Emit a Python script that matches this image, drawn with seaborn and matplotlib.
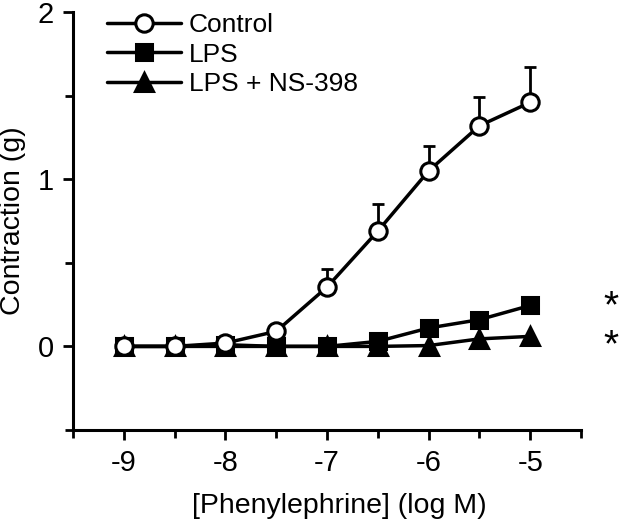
import numpy as np
import pandas as pd
import matplotlib
matplotlib.use("Agg")
import matplotlib.pyplot as plt
from matplotlib.ticker import FixedLocator
import seaborn as sns

# log M phenylephrine concentrations
conc = [-9, -8.5, -8, -7.5, -7, -6.5, -6, -5.5, -5]

# contraction (g)
control = [0.0, 0.0, 0.02, 0.09, 0.355, 0.69, 1.05, 1.32, 1.46]
control_err = [0.0, 0.0, 0.0, 0.03, 0.11, 0.16, 0.15, 0.17, 0.21]
lps = [0.0, 0.0, 0.01, 0.0, 0.0, 0.03, 0.11, 0.16, 0.245]
lps_ns = [0.0, 0.0, 0.0, 0.0, 0.0, 0.0, 0.005, 0.045, 0.06]

series_names = ["Control", "LPS", "LPS + NS-398"]
series_markers = ["o", "s", "^"]
x_ticks = [-9, -8, -7, -6, -5]
y_ticks = [0, 1, 2]

df = pd.DataFrame({
    "conc": conc * 3,
    "value": control + lps + lps_ns,
    "group": np.repeat(series_names, len(conc)),
})

sns.set_style("ticks")
plt.rcParams['font.family'] = ['Liberation Sans', 'DejaVu Sans']
plt.rcParams['axes.unicode_minus'] = False
plt.rcParams['text.color'] = 'black'
plt.rcParams['axes.labelcolor'] = 'black'
plt.rcParams['xtick.color'] = 'black'
plt.rcParams['ytick.color'] = 'black'

fig = plt.figure(figsize=(6.4, 5.25), dpi=100)
ax = fig.add_axes([0.114, 0.181, 0.794, 0.796])

# upper error bars for the control curve only
ax.errorbar(conc, control, yerr=[np.zeros(len(conc)), control_err], fmt="none",
            ecolor="black", elinewidth=2, capsize=4, capthick=2, zorder=1)

face = {"Control": "white", "LPS": "black", "LPS + NS-398": "black"}
msize = {"Control": 12.5, "LPS": 11.5, "LPS + NS-398": 13.5}
# draw in reverse so the open circles sit on top
for name, mk in reversed(list(zip(series_names, series_markers))):
    sub = df[df["group"] == name]
    sns.lineplot(data=sub, x="conc", y="value", ax=ax, color="black", lw=2.5,
                 marker=mk, markersize=msize[name], markerfacecolor=face[name],
                 markeredgecolor="black", markeredgewidth=2.2, label=name,
                 zorder=3 if name == "Control" else 2)

# significance stars
ax.text(-4.21, lps[-1] - 0.01, "*", fontsize=28, ha="center", va="center",
        clip_on=False)
ax.text(-4.21, lps_ns[-1] - 0.06, "*", fontsize=28, ha="center", va="center",
        clip_on=False)

ax.set_xlim(-9.5, -4.5)
ax.set_ylim(-0.5, 2)
ax.xaxis.set_major_locator(FixedLocator(x_ticks))
ax.xaxis.set_minor_locator(FixedLocator([-9.5, -8.5, -7.5, -6.5, -5.5, -4.5]))
ax.yaxis.set_major_locator(FixedLocator(y_ticks))
ax.yaxis.set_minor_locator(FixedLocator([-0.5, 0.5, 1.5]))
ax.tick_params(which="major", length=7, width=2, labelsize=21, pad=7)
ax.tick_params(which="minor", length=6, width=2)
for s in ["top", "right"]:
    ax.spines[s].set_visible(False)
for s in ["left", "bottom"]:
    ax.spines[s].set_linewidth(2.2)
    ax.spines[s].set_color("black")

ax.set_xlabel("[Phenylephrine] (log M)", fontsize=20.5, labelpad=3)
ax.xaxis.set_label_coords(0.525, -0.15)
ax.set_ylabel("Contraction (g)", fontsize=20.5, labelpad=8)

# legend in original order
h, l = ax.get_legend_handles_labels()
order = [l.index(n) for n in series_names]
ax.legend([h[i] for i in order], series_names, loc="upper left",
          bbox_to_anchor=(0.02, 1.055), frameon=False, fontsize=19,
          handlelength=2.8, handletextpad=0.3, labelspacing=0.22)

fig.savefig("out.png", dpi=100)
